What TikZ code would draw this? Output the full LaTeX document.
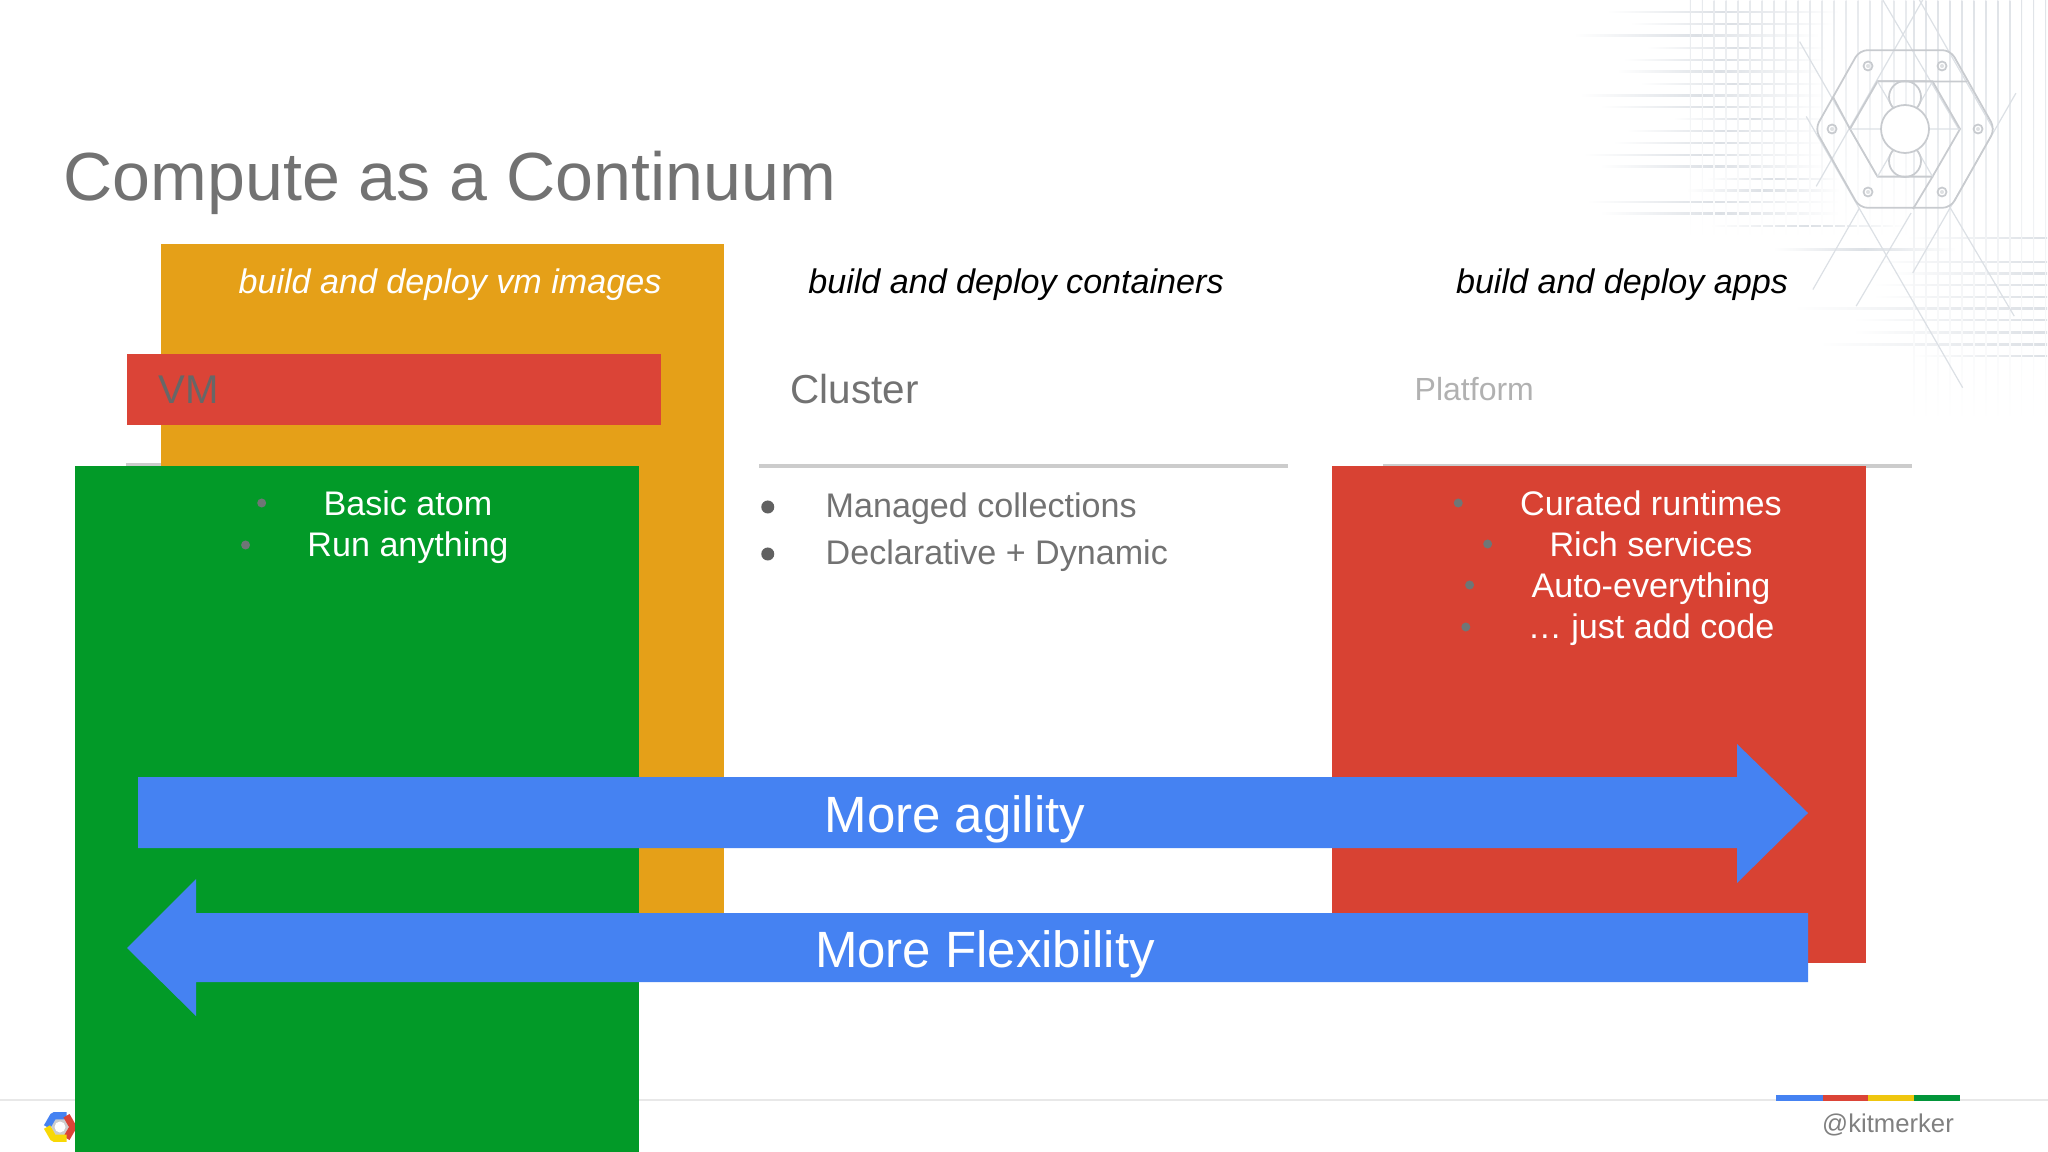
\documentclass[tikz,border=0pt]{standalone}
\usepackage{fontspec}
\setmainfont{Liberation Sans}
\usetikzlibrary{positioning}

\begin{document}
\begin{tikzpicture}[
    x=0.01cm, y=-0.01cm,
    % Colors
    title/.style={font=\fontsize{19.37pt}{23pt}\selectfont, text=ink, inner sep=0, anchor=west},
    tagline/.style={font=\fontsize{9.7pt}{12pt}\selectfont\itshape, inner sep=0},
    itemtext/.style={font=\fontsize{9.7pt}{12pt}\selectfont, inner sep=0},
    dot/.style={circle, fill=dotgrey, minimum size=0.09cm, inner sep=0},
    bigdot/.style={circle, fill=ink!85!black, minimum size=0.13cm, inner sep=0, yshift=0.02cm},
    arrowtext/.style={font=\fontsize{14.5pt}{18pt}\selectfont, text=white, inner sep=0},
    rule/.style={rulegrey, line width=1.3pt},
    sketch/.style={gridgrey, line width=0.35pt},
    plan/.style={hexgrey, line width=0.5pt}
]
\definecolor{ink}{HTML}{727272}
\definecolor{dotgrey}{HTML}{6F7676}
\definecolor{rulegrey}{HTML}{CCCCCC}
\definecolor{gridgrey}{HTML}{DCE0E5}
\definecolor{hexgrey}{HTML}{C8CBCF}
\definecolor{vmorange}{HTML}{E5A018}
\definecolor{vmred}{HTML}{DB4437}
\definecolor{vmgreen}{HTML}{029A28}
\definecolor{appred}{HTML}{D84233}
\definecolor{arrowblue}{HTML}{4582F2}

\useasboundingbox (0,0) rectangle (2048,1152);

% ==========================================
% TOP RIGHT: BLUEPRINT BACKDROP
% ==========================================
\begin{scope}[shift={(1540,0)}, x=0.00333cm, y=-0.00333cm]
    % 1. Horizontal lines
    \foreach \yy/\xa/\xb in {35/200/900, 70/270/880, 105/100/840, 143/320/860, 178/250/860,
        213/230/850, 250/300/860, 285/120/860, 320/180/860, 355/400/860, 392/260/860,
        428/220/860, 463/130/860, 498/180/860, 535/500/900, 570/440/900, 605/140/900,
        640/180/900, 677/510/1100, 748/700/1250}
        \shade[left color=white, right color=white, middle color=gridgrey]
            (\xa,\yy) rectangle (\xb,\yy+4);
    \foreach \yy/\xa in {713/1100, 785/1000, 820/1050, 855/1000, 890/1000, 925/760,
        960/940, 997/940, 1033/840, 1068/1120}
        \shade[left color=white, right color=gridgrey]
            (\xa,\yy) rectangle (1524,\yy+4);
    % 2. Vertical lines
    \foreach \xx in {450,486,...,1100}
        \shade[top color=gridgrey!70, bottom color=white] (\xx,0) rectangle (\xx+3,720);
    \foreach \xx in {1122,1158,...,1520}
        \shade[top color=gridgrey!90, bottom color=white] (\xx,0) rectangle (\xx+3,1270);
    % 3. Diagonals
    \foreach \xa/\ya/\xb/\yb in {780/125/1010/525, 800/350/1270/1165, 1030/0/1258/388,
        1140/0/1362/388, 1150/0/830/560, 1430/280/1120/820, 1115/640/950/920,
        960/625/820/870, 1230/620/1425/950}
        \draw[sketch] (\xa,\ya) -- (\xb,\yb);
\end{scope}

% The hexagon drawn over the lines
\begin{scope}[shift={(1905,129)}]
    \draw[plan, rounded corners=0.08cm] (0:90) -- (60:91) -- (120:91) -- (180:90) -- (240:91) -- (300:91) -- cycle;
    \draw[plan] (0:55) -- (60:55) -- (120:55) -- (180:55) -- (240:55) -- (300:55) -- cycle;
    % Hairlines through the inner hexagon
    \draw[sketch] (0:55) -- (180:55) (60:55) -- (240:55) (120:55) -- (300:55);
    \draw[plan] (0,-32) circle (16) (0,32) circle (16);
    \draw[plan, fill=white] (0,0) circle (24);
    % The three arms of the mark
    \draw[plan] (240:55) -- (62,-47.6);
    \draw[plan] (180:55) -- (-72,-32);
    \draw[plan] (60:55) -- (8,80);
    \foreach \bx/\by in {-37/-63, 37/-63, -73/0, 73/0, -37/63, 37/63} {
        \draw[plan] (\bx,\by) circle (4.5);
        \fill[hexgrey!60] (\bx,\by) circle (2);
    }
\end{scope}

% ==========================================
% FOOTER (sits under the green block)
% ==========================================
\draw[rulegrey!45, line width=0.5pt] (0,1100) -- (2048,1100);

% Small hexagon logo
\begin{scope}[shift={(60,1127)}, line width=2pt, line join=round]
    \fill[rulegrey] (0:9) -- (60:9) -- (120:9) -- (180:9) -- (240:9) -- (300:9) -- cycle;
    \fill[white] (0,0) circle (5.5);
    \draw[arrowblue] (180:13) -- (240:13) -- (300:13);
    \draw[vmred] (300:13) -- (0:13) -- (60:13);
    \draw[vmorange!30!yellow!90!orange] (60:13) -- (120:13) -- (180:13);
\end{scope}

% ==========================================
% COLUMN RULES AND BLOCKS
% ==========================================
\draw[rule] (126,465) -- (661,465);
\draw[rule] (759,466) -- (1288,466);
\draw[rule] (1383,466) -- (1912,466);

\fill[vmorange] (161,244) rectangle (724,930);
\fill[vmred] (127,354) rectangle (661,425);
\fill[vmgreen] (75,466) rectangle (639,1152);
\fill[appred] (1332,466) rectangle (1866,963);

% ==========================================
% HEADINGS
% ==========================================
\node[title] (slide_title) at (63,183) {Compute as a Continuum};

\node[tagline, text=white] (vm_tag) at (450,285) {build and deploy vm images};
\node[tagline, text=black] (cluster_tag) at (1016,285) {build and deploy containers};
\node[tagline, text=black] (app_tag) at (1622,285) {build and deploy apps};

\node[font=\fontsize{11.4pt}{14pt}\selectfont, text=ink!90!black, inner sep=0, anchor=west] (vm_name) at (158,390) {VM};
\node[font=\fontsize{11.5pt}{14pt}\selectfont, text=ink, inner sep=0, anchor=west] (cluster_name) at (790,389) {Cluster};
\node[font=\fontsize{9.1pt}{12pt}\selectfont, text=ink!55, inner sep=0, anchor=west] (app_name) at (1414,389) {Platform};

% ==========================================
% BULLET LISTS
% ==========================================
% Left block
\node[itemtext, text=white] (vm_a) at (408,503) {Basic atom};
\node[itemtext, text=white] (vm_b) at (408,548) {Run anything};
\node[dot, left=0.56cm of vm_a] (vm_adot) {};
\node[dot, left=0.56cm of vm_b, yshift=0.03cm] (vm_bdot) {};

% Middle block
\node[itemtext, text=ink, anchor=west] (cluster_a) at (825,509) {Managed collections};
\node[itemtext, text=ink, anchor=west] (cluster_b) at (825,556) {Declarative + Dynamic};
\node[bigdot, left=0.5cm of cluster_a] (cluster_adot) {};
\node[bigdot, left=0.5cm of cluster_b] (cluster_bdot) {};

% Right block
\node[itemtext, text=white] (app_a) at (1651,503) {Curated runtimes};
\node[itemtext, text=white] (app_b) at (1651,544) {Rich services};
\node[itemtext, text=white] (app_c) at (1651,589) {Auto-everything};
\node[itemtext, text=white] (app_d) at (1651,630) {\dots\ just add code};
\node[dot, left=0.56cm of app_a] (app_adot) {};
\node[dot, left=0.56cm of app_b] (app_bdot) {};
\node[dot, left=0.56cm of app_c, yshift=0.04cm] (app_cdot) {};
\node[dot, left=0.56cm of app_d, yshift=0.03cm] (app_ddot) {};

% ==========================================
% THE TWO BLUE ARROWS
% ==========================================
\fill[arrowblue] (138,777) -- (1737,777) -- (1737,744) -- (1808,813) -- (1737,883) -- (1737,848) -- (138,848) -- cycle;
\node[arrowtext] (agility) at (955,819) {More agility};

\fill[arrowblue] (1808,913) -- (196,913) -- (196,879) -- (127,948) -- (196,1016) -- (196,982) -- (1808,982) -- cycle;
\node[arrowtext] (flexibility) at (985,954) {More Flexibility};

% ==========================================
% BOTTOM RIGHT
% ==========================================
\fill[arrowblue] (1776,1095) rectangle (1823,1101);
\fill[vmred] (1823,1095) rectangle (1868,1101);
\fill[vmorange!60!yellow] (1868,1095) rectangle (1914,1101);
\fill[vmgreen!80!teal] (1914,1095) rectangle (1960,1101);
\node[font=\fontsize{7.3pt}{9pt}\selectfont, text=ink!90, inner sep=0] (handle) at (1888,1125) {@kitmerker};

\end{tikzpicture}
\end{document}
